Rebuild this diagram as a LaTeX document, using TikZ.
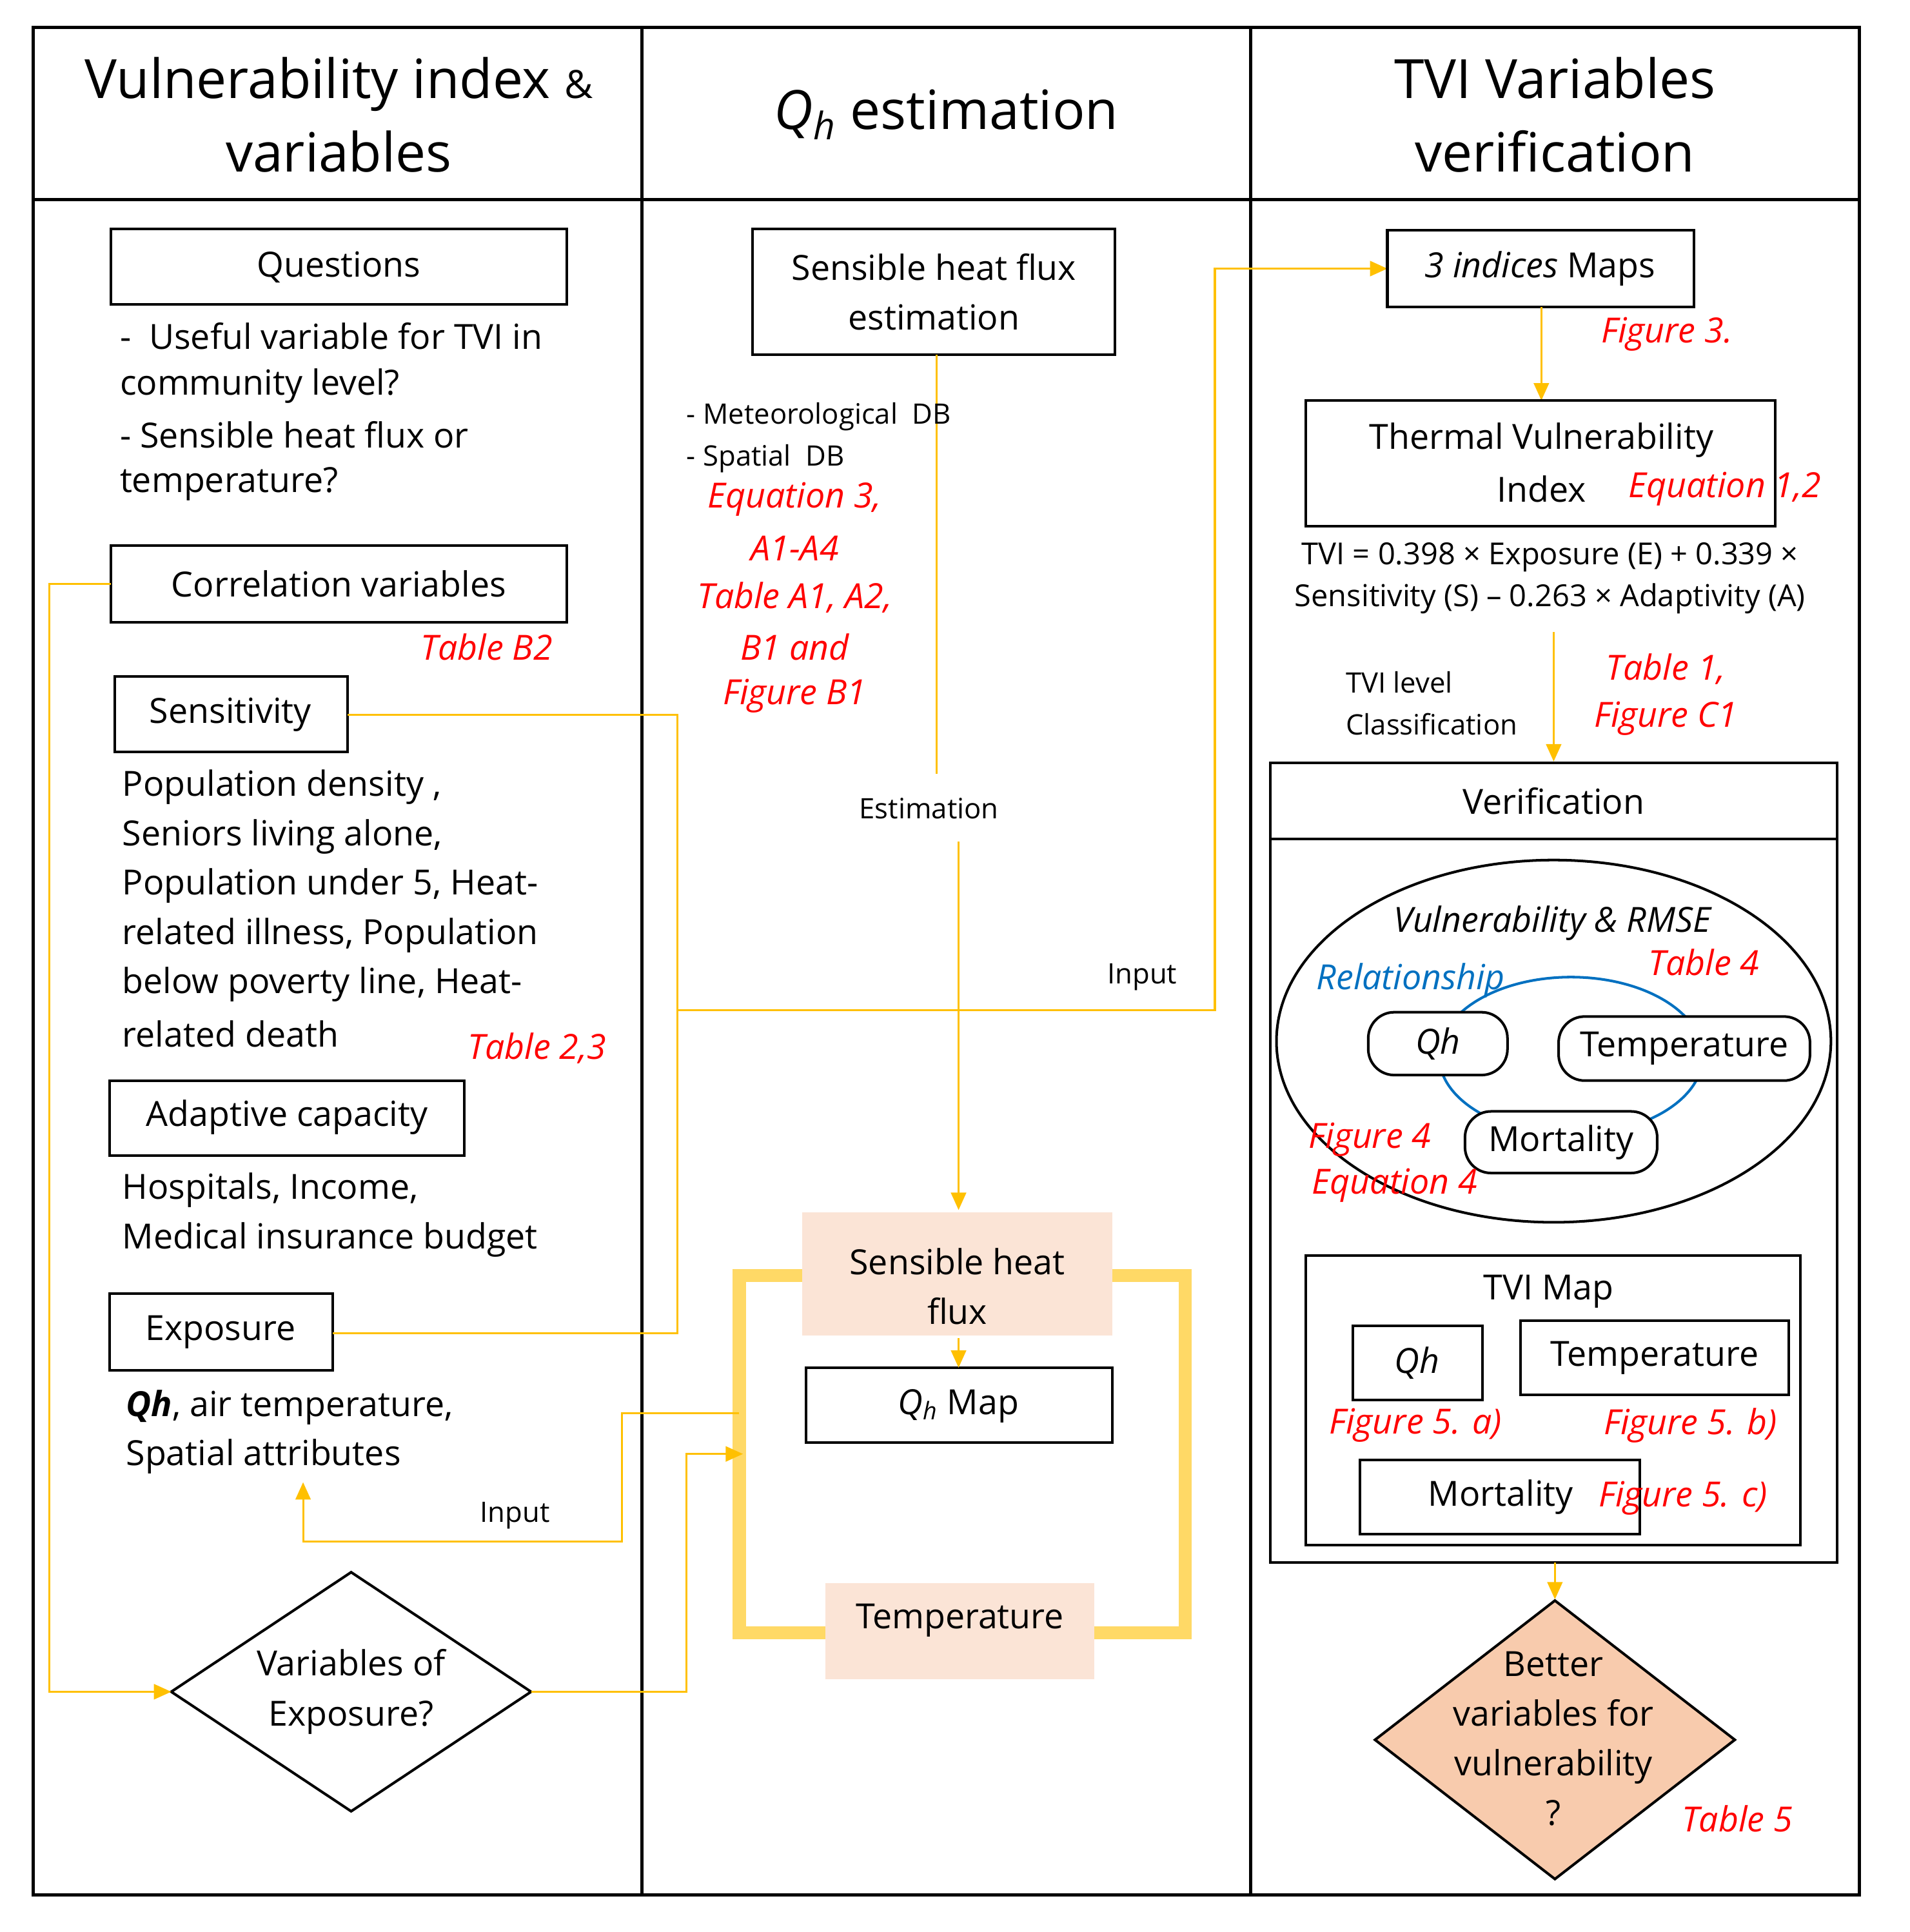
\documentclass[tikz,border=0pt]{standalone}
\usepackage{fontspec}
\setmainfont{Open Sans}
\usetikzlibrary{shapes.geometric,arrows.meta}
\definecolor{yel}{RGB}{255,192,0}
\definecolor{thk}{RGB}{255,217,102}
\definecolor{peach}{RGB}{251,228,214}
\definecolor{dpeach}{RGB}{248,203,173}
\definecolor{rd}{RGB}{255,0,0}
\definecolor{bl}{RGB}{0,112,192}
\newcommand{\Qh}{\textit{Q}\textsubscript{\textit{h}}}
\begin{document}
\begin{tikzpicture}[x=0.02cm,y=-0.02cm,
  bx/.style={draw,line width=1.2pt,inner sep=0},
  t/.style={font=\fontsize{16}{19}\selectfont,inner sep=0},
  tl/.style={t,anchor=west},
  sm/.style={font=\fontsize{13}{16}\selectfont,inner sep=0},
  red/.style={t,text=rd,font=\fontsize{16}{19}\selectfont\itshape},
  ttl/.style={font=\fontsize{25}{34}\selectfont,inner sep=0,align=center},
  yl/.style={draw=yel,line width=0.9pt},
  ya/.style={yl,-{Triangle[length=8pt,width=7pt]}}]
\useasboundingbox (0,0) rectangle (1550,1568);
% frame
\draw[line width=1.5pt] (27,22) rectangle (1509,1538);
\draw[line width=1.5pt] (521,22)--(521,1538) (1015,22)--(1015,1538) (27,162)--(1509,162);
\node[ttl] (h1) at (275,93) {Vulnerability index {\fontsize{18}{20}\selectfont\&}\\variables};
\node[ttl] (h2) at (768,93) {\Qh{} estimation};
\node[ttl] (h3) at (1262,93) {TVI Variables\\verification};
% col1
\draw[bx] (90,186) rectangle (460,247); \node[t] (q) at (275,217) {Questions};
\node[tl] (q1) at (97,273) {-\ \ Useful variable for TVI in};
\node[tl] (q2) at (97,313) {community level?};
\node[tl] (q3) at (97,353) {- Sensible heat flux or};
\node[tl] (q4) at (97,393) {temperature?};
\draw[bx] (90,443) rectangle (460,505); \node[t] (cv) at (275,474) {Correlation variables};
\node[red] (tb2) at (395,525) {Table B2};
\draw[bx] (93,549) rectangle (282,610); \node[t] (se) at (187,580) {Sensitivity};
\node[tl] at (99,639) {Population density ,};
\node[tl] at (99,679) {Seniors living alone,};
\node[tl] at (99,719) {Population under 5, Heat-};
\node[tl] at (99,759) {related illness, Population};
\node[tl] at (99,799) {below poverty line, Heat-};
\node[tl] at (99,839) {related death};
\node[red] at (436,851) {Table 2,3};
\draw[bx] (89,877) rectangle (377,938); \node[t] (ad) at (233,907) {Adaptive capacity};
\node[tl] at (99,966) {Hospitals, Income,};
\node[tl] at (99,1006) {Medical insurance budget};
\draw[bx] (89,1050) rectangle (270,1112); \node[t] (ex) at (179,1081) {Exposure};
\node[tl] at (102,1142) {\textbf{\textit{Qh}}, air temperature,};
\node[tl] at (102,1182) {Spatial attributes};
\node[sm] (in1) at (418,1230) {Input};
\coordinate (dl) at (139,1373); \coordinate (dr) at (431,1373);
\draw[line width=1.2pt] (dl)--(285,1276)--(dr)--(285,1470)--cycle;
\node[t,align=center,font=\fontsize{16}{23}\selectfont] (dia) at (285,1373) {Variables of\\Exposure?};
% col2
\draw[bx] (611,186) rectangle (905,288);
\node[t,align=center,font=\fontsize{16}{23}\selectfont] (she) at (758,237) {Sensible heat flux\\estimation};
\draw[yl] (760,288)--(760,628);
\node[sm,anchor=west] at (557,338) {- Meteorological\ \ DB};
\node[sm,anchor=west] at (557,372) {- Spatial\ \ DB};
\node[red] at (645,405) {Equation 3,};
\node[red] at (645,445) {A1-A4};
\node[red] at (645,485) {Table A1, A2,};
\node[red] at (645,525) {B1 and};
\node[red] at (645,565) {Figure B1};
\node[sm] (est) at (754,656) {Estimation};
\draw[thk,line width=6pt] (651,1035)--(600,1035)--(600,1325)--(670,1325);
\draw[thk,line width=6pt] (903,1035)--(962,1035)--(962,1325)--(888,1325);
\fill[peach] (651,984) rectangle (903,1084);
\node[t,align=center,font=\fontsize{16}{23}\selectfont] (shf) at (777,1044) {Sensible heat\\flux};
\draw[bx] (654,1110) rectangle (903,1171); \node[t] (qm) at (778,1141) {\Qh{} Map};
\fill[peach] (670,1285) rectangle (888,1363); \node[t] (tp) at (779,1315) {Temperature};
\draw[ya] (778,683)--(778,982);
\draw[ya] (778,1086)--(778,1110);
% connectors
\draw[yl] (282,580)--(550,580)--(550,1082)--(270,1082);
\draw[ya] (550,820)--(986,820)--(986,218)--(1126,218);
\node[sm] (in2) at (927,793) {Input};
\draw[ya] (90,474)--(40,474)--(40,1373)--(dl);
\draw[ya] (dr)--(557,1373)--(557,1180)--(603,1180);
\draw[ya] (600,1147)--(505,1147)--(505,1251)--(246,1251)--(246,1203);
% col3
\draw[bx] (1126,187) rectangle (1375,249); \node[t] (im) at (1250,218) {\textit{3 indices} Maps};
\node[red] at (1353,271) {Figure 3.};
\draw[ya] (1251,249)--(1251,325);
\draw[bx] (1060,325) rectangle (1441,427);
\node[t] (tv) at (1251,357) {Thermal Vulnerability};
\node[t] at (1251,397) {Index};
\node[red] at (1400,397) {Equation 1,2};
\node[font=\fontsize{14}{17}\selectfont,inner sep=0] at (1258,452) {TVI = 0.398 × Exposure (E) + 0.339 ×};
\node[font=\fontsize{14}{17}\selectfont,inner sep=0] at (1258,486) {Sensitivity (S) – 0.263 × Adaptivity (A)};
\draw[ya] (1261,513)--(1261,618);
\node[sm,anchor=west] at (1092,554) {TVI level};
\node[sm,anchor=west] at (1092,588) {Classification};
\node[red] at (1352,543) {Table 1,};
\node[red] at (1352,583) {Figure C1};
\draw[bx] (1031,619) rectangle (1491,1268); \draw[line width=1.2pt] (1031,681)--(1491,681);
\node[t] (ver) at (1261,650) {Verification};
\draw[line width=1.2pt] (1261,845) ellipse [x radius=225, y radius=147];
\node[t,font=\fontsize{16}{19}\selectfont\itshape] at (1260,749) {Vulnerability \& RMSE};
\draw[bl,line width=1.2pt] (1275,857) ellipse [x radius=107, y radius=64];
\node[t,text=bl,font=\fontsize{16}{19}\selectfont\itshape] at (1145,796) {Relationship};
\node[red] at (1383,781) {Table 4};
\node[draw,fill=white,line width=1.2pt,rounded corners=12pt,minimum width=113*0.02cm,minimum height=51*0.02cm,t,font=\fontsize{16}{19}\selectfont\itshape] (vq) at (1167,847) {Qh};
\node[draw,fill=white,line width=1.2pt,rounded corners=12pt,minimum width=204*0.02cm,minimum height=52*0.02cm,t] (vt) at (1367,851) {Temperature};
\node[draw,fill=white,line width=1.2pt,rounded corners=12pt,minimum width=156*0.02cm,minimum height=50*0.02cm,t] (vm) at (1267,927) {Mortality};
\node[red] at (1112,925) {Figure 4};
\node[red] at (1132,962) {Equation 4};
\draw[bx] (1060,1019) rectangle (1461,1254); \node[t] (tm) at (1257,1048) {TVI Map};
\draw[bx] (1098,1076) rectangle (1203,1136); \node[t,font=\fontsize{16}{19}\selectfont\itshape] (mq) at (1150,1106) {Qh};
\draw[bx] (1234,1072) rectangle (1452,1132); \node[t] (mt) at (1343,1102) {Temperature};
\draw[bx] (1104,1185) rectangle (1331,1245); \node[t] (mm) at (1218,1215) {Mortality};
\node[red] at (1149,1157) {Figure 5. a)};
\node[red] at (1372,1157) {Figure 5. b)};
\node[red] at (1366,1216) {Figure 5. c)};
\draw[ya] (1262,1268)--(1262,1298);
\draw[fill=dpeach,line width=1.2pt] (1116,1412)--(1262,1299)--(1408,1412)--(1262,1525)--cycle;
\node[t,align=center,font=\fontsize{16}{23}\selectfont] (bv) at (1261,1411) {Better\\variables for\\vulnerability\\?};
\node[red] at (1410,1476) {Table 5};
\end{tikzpicture}
\end{document}
